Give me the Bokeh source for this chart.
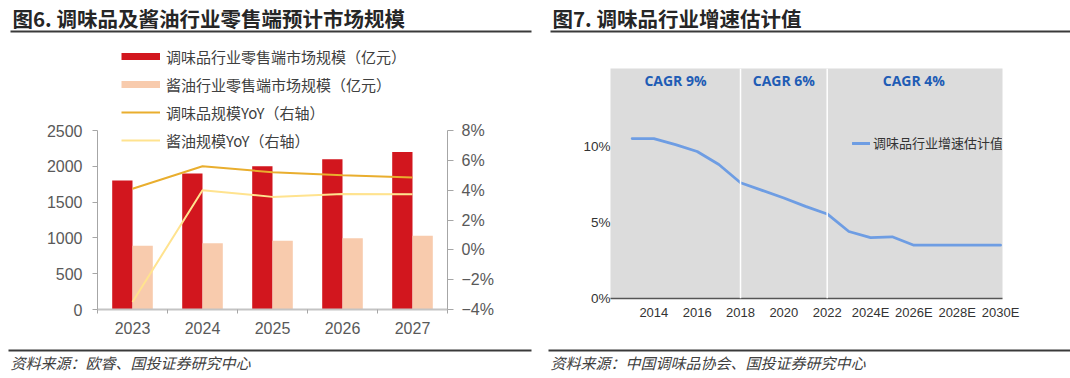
import numpy as np
from bokeh.plotting import figure
from bokeh.layouts import row, column
from bokeh.models import (Range1d, LinearAxis, FixedTicker, Legend, LegendItem,
                          Label, Span, ColumnDataSource)
from bokeh.core.properties import value
from bokeh.embed import file_html
from bokeh.resources import INLINE

# ---------------- data ----------------
YEARS = ["2023", "2024", "2025", "2026", "2027"]
SEASONING_SIZE = [1800, 1900, 2000, 2100, 2200]      # 亿元
SOY_SIZE = [890, 925, 960, 995, 1030]                 # 亿元
SEASONING_YOY = [4.1, 5.6, 5.2, 5.0, 4.85]            # %
SOY_YOY = [-3.5, 4.0, 3.55, 3.75, 3.72]               # %
SIZE_TICKS = [0, 500, 1000, 1500, 2000, 2500]
YOY_TICKS = [-4, -2, 0, 2, 4, 6, 8]
YOY_TICK_LABELS = ["−4%", "−2%", "0%", "2%", "4%", "6%", "8%"]

GROWTH_YEARS = list(range(2013, 2031))
GROWTH = [10.5, 10.5, 10.1, 9.65, 8.8, 7.6, 7.1, 6.6, 6.05, 5.55,
          4.4, 4.0, 4.05, 3.5, 3.5, 3.5, 3.5, 3.5]
GROWTH_XTICKS = [2014, 2016, 2018, 2020, 2022, 2024, 2026, 2028, 2030]
GROWTH_XLABELS = ["2014", "2016", "2018", "2020", "2022", "2024E", "2026E", "2028E", "2030E"]
GROWTH_YTICKS = [0, 5, 10]
GROWTH_YLABELS = ["0%", "5%", "10%"]
PERIOD_BOUNDS = [2018, 2022]
CAGR_X = [2015, 2020, 2026]
CAGR_TEXT = ["CAGR 9%", "CAGR 6%", "CAGR 4%"]

CJK = "Noto Sans CJK SC"
LAT = "Liberation Sans"
RED = "#D2161E"
PINK = "#F8CBAD"
GOLD = "#E9AE2E"
LIGHT = "#FFE38F"
BLUE = "#6E9DE3"

LW, RW = 545, 525
TH, CH, FH = 36, 308, 34


def base(width, height):
    p = figure(width=width, height=height, x_range=Range1d(0, width), y_range=Range1d(0, height),
               output_backend="svg", toolbar_location=None, min_border=0,
               x_axis_location=None, y_axis_location=None, outline_line_color=None)
    p.frame_align = False
    p.grid.visible = False
    return p


def header(width, text, tx, lx0, lx1):
    p = base(width, TH)
    p.add_layout(Label(x=tx, y=TH - 17, text=text, text_font=CJK, text_font_style="bold",
                       text_font_size="20.5px", text_baseline="middle", text_color="#262626"))
    p.segment(x0=[lx0], y0=[TH - 31], x1=[lx1], y1=[TH - 31], line_color="#3A3A3A", line_width=2)
    return p


def footer(width, text, tx, lx0, lx1):
    p = base(width, FH)
    p.segment(x0=[lx0], y0=[FH - 6], x1=[lx1], y1=[FH - 6], line_color="#3A3A3A", line_width=2)
    p.add_layout(Label(x=tx, y=FH - 17.5, text=text, text_font=CJK, text_font_style="italic",
                       text_font_size="15px", text_baseline="middle", text_color="#404040"))
    return p


# ---------------- left chart ----------------
n = len(YEARS)
idx = np.arange(n)
L_TOP, L_BOT = 4, 35                 # borders; frame extends above the axes to hold the legend
frame_h = CH - L_TOP - L_BOT
axis_px = 179                        # pixel height of the 0..2500 axis
size_top = SIZE_TICKS[-1] * frame_h / axis_px
yoy_top = YOY_TICKS[0] + (YOY_TICKS[-1] - YOY_TICKS[0]) * frame_h / axis_px

left = figure(width=LW, height=CH, x_range=Range1d(-0.5, n - 0.5), y_range=Range1d(0, size_top),
              output_backend="svg", toolbar_location=None,
              min_border_left=97, min_border_right=98, min_border_top=L_TOP, min_border_bottom=L_BOT,
              outline_line_color=None)
left.frame_align = False
left.grid.visible = False
left.extra_y_ranges = {"yoy": Range1d(YOY_TICKS[0], yoy_top)}

src = ColumnDataSource(dict(x=idx, ya=SEASONING_YOY, yb=SOY_YOY))
bw = 0.29
left.vbar(x=idx - bw / 2, top=SEASONING_SIZE, width=bw, fill_color=RED, line_color=None)
left.vbar(x=idx + bw / 2, top=SOY_SIZE, width=bw, fill_color=PINK, line_color=None)
left.line(x="x", y="ya", source=src, y_range_name="yoy", line_color=GOLD, line_width=2)
left.line(x="x", y="yb", source=src, y_range_name="yoy", line_color=LIGHT, line_width=2)

# legend swatches (renderers with no visible data, used only for the legend)
nan = [np.nan]
d1 = left.line(x=nan, y=nan, line_color=RED, line_width=7)
d2 = left.line(x=nan, y=nan, line_color=PINK, line_width=7)
d3 = left.line(x=nan, y=nan, line_color=GOLD, line_width=2)
d4 = left.line(x=nan, y=nan, line_color=LIGHT, line_width=2)
legend = Legend(items=[
    LegendItem(label="调味品行业零售端市场规模（亿元）", renderers=[d1]),
    LegendItem(label="酱油行业零售端市场规模（亿元）", renderers=[d2]),
    LegendItem(label="调味品规模YoY（右轴）", renderers=[d3]),
    LegendItem(label="酱油规模YoY（右轴）", renderers=[d4]),
], location=(24, 155), orientation="vertical", padding=0, margin=0, spacing=0,
    glyph_width=39, glyph_height=28, label_height=28, label_standoff=6,
    label_text_font=CJK, label_text_font_size="15px", label_text_color="#404040",
    border_line_color=None, background_fill_alpha=0)
left.add_layout(legend)

ax = left.xaxis[0]
ax.ticker = FixedTicker(ticks=list(idx), minor_ticks=list(np.arange(-0.5, n, 1.0)))
ax.major_label_overrides = {int(i): y for i, y in zip(idx, YEARS)}
ax.major_tick_out = 0
ax.major_tick_in = 0
ax.minor_tick_out = 4
ax.minor_tick_in = 0
ax.minor_tick_line_color = "#A6A6A6"
ax.axis_line_color = "#C4C4C4"
ax.axis_line_width = 2
ax.major_label_standoff = 8
ax.major_label_text_font = LAT
ax.major_label_text_font_size = "16px"
ax.major_label_text_color = "#595959"

ay = left.yaxis[0]
ay.ticker = FixedTicker(ticks=SIZE_TICKS)
ay.bounds = (SIZE_TICKS[0], SIZE_TICKS[-1])
ay.major_tick_out = 5
ay.major_tick_in = 0
ay.minor_tick_out = 0
ay.minor_tick_in = 0
ay.axis_line_color = "#A6A6A6"
ay.major_tick_line_color = "#A6A6A6"
ay.major_label_standoff = 10
ay.major_label_text_font = LAT
ay.major_label_text_font_size = "16px"
ay.major_label_text_color = "#595959"

ry = LinearAxis(y_range_name="yoy", ticker=FixedTicker(ticks=YOY_TICKS),
                major_label_overrides=dict(zip(YOY_TICKS, YOY_TICK_LABELS)),
                bounds=(YOY_TICKS[0], YOY_TICKS[-1]))
ry.major_tick_out = 6
ry.major_tick_in = 0
ry.minor_tick_out = 0
ry.minor_tick_in = 0
ry.axis_line_color = "#A6A6A6"
ry.major_tick_line_color = "#A6A6A6"
ry.major_label_standoff = 8
ry.major_label_text_font = LAT
ry.major_label_text_font_size = "16px"
ry.major_label_text_color = "#595959"
left.add_layout(ry, "right")

# ---------------- right chart ----------------
right = figure(width=RW, height=CH, x_range=Range1d(2012, 2030.09), y_range=Range1d(0, 15.1),
               output_backend="svg", toolbar_location=None,
               min_border_left=65, min_border_right=68, min_border_top=32, min_border_bottom=46,
               outline_line_color=None, background_fill_color="#DCDCDC")
right.frame_align = False
right.grid.visible = False
for b in PERIOD_BOUNDS:
    right.add_layout(Span(location=b, dimension="height", line_color="white", line_width=1.5))
rg = right.line(x=GROWTH_YEARS, y=GROWTH, line_color=BLUE, line_width=2.8,
                line_join="round", line_cap="round")
right.text(x=CAGR_X, y=[14.3] * len(CAGR_X), text=CAGR_TEXT, text_font=value("Open Sans"),
           text_font_style="bold", text_font_size="14px", text_color="#1F5CB5",
           text_align="center", text_baseline="middle")

leg2 = Legend(items=[LegendItem(label="调味品行业增速估计值", renderers=[rg])],
              location=(242, 146), padding=0, margin=0, spacing=0,
              glyph_width=18, glyph_height=16, label_height=16, label_standoff=3,
              label_text_font=CJK, label_text_font_size="13px", label_text_color="#333333",
              border_line_color=None, background_fill_alpha=0)
right.add_layout(leg2)

bx = right.xaxis[0]
bx.ticker = FixedTicker(ticks=GROWTH_XTICKS)
bx.major_label_overrides = dict(zip(GROWTH_XTICKS, GROWTH_XLABELS))
bx.major_tick_out = 0
bx.major_tick_in = 0
bx.minor_tick_out = 0
bx.minor_tick_in = 0
bx.axis_line_color = "#555555"
bx.axis_line_width = 1.5
bx.major_label_standoff = 6
bx.major_label_text_font = LAT
bx.major_label_text_font_size = "13px"
bx.major_label_text_color = "#333333"

by = right.yaxis[0]
by.ticker = FixedTicker(ticks=GROWTH_YTICKS)
by.major_label_overrides = dict(zip(GROWTH_YTICKS, GROWTH_YLABELS))
by.major_tick_out = 0
by.major_tick_in = 0
by.minor_tick_out = 0
by.minor_tick_in = 0
by.axis_line_color = None
by.major_label_standoff = 0
by.major_label_text_font = LAT
by.major_label_text_font_size = "13.5px"
by.major_label_text_color = "#333333"

# ---------------- layout ----------------
lh = header(LW, "图6. 调味品及酱油行业零售端预计市场规模", 12, 10, 531)
lf = footer(LW, "资料来源：欧睿、国投证券研究中心", 10, 8, 531)
rh = header(RW, "图7. 调味品行业增速估计值", 7, 5, RW)
rf = footer(RW, "资料来源：中国调味品协会、国投证券研究中心", 5, 3, RW)

page = row(column(lh, left, lf), column(rh, right, rf))
open("out.html", "w").write(file_html(page, INLINE))
